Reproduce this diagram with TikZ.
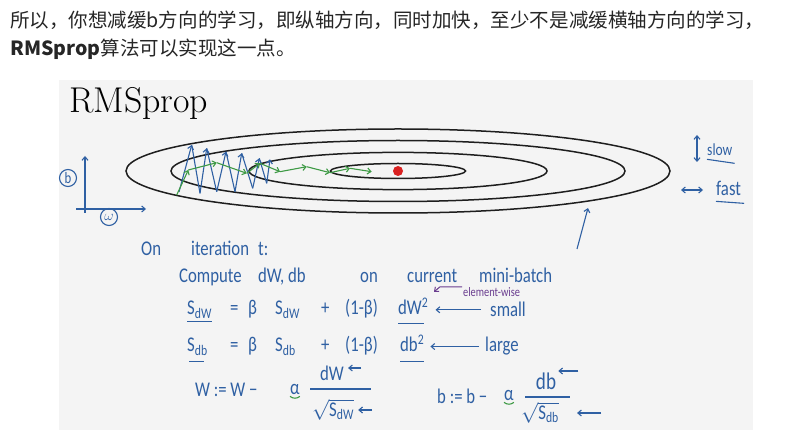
\documentclass[tikz,border=0pt]{standalone}
\usepackage{amsmath}
\usepackage{fontspec}
\newfontfamily\cjk{Noto Sans CJK SC}
\newfontfamily\hand{Carlito}[FakeStretch=0.8]
\usetikzlibrary{arrows.meta}

\begin{document}
\begin{tikzpicture}[x=1bp,y=-1bp,every node/.style={inner sep=0,font=\hand\fontsize{21}{23}\selectfont,text=ink},>={Straight Barb[length=3.5bp,width=6bp]},hand line/.style={draw=ink,line width=1.1bp},pen line/.style={draw=pen,line width=1.1bp}]
\path[use as bounding box] (0,0) rectangle (790,434);
\definecolor{ink}{HTML}{2F60A3}
\definecolor{pen}{HTML}{3E9A45}
\definecolor{note}{HTML}{6A3D8F}
\definecolor{dot}{HTML}{D92121}
\definecolor{panel}{HTML}{F4F4F4}
\definecolor{ring}{HTML}{1E1E1E}
\fill[panel] (59,80) rectangle (753,430);
\node[anchor=west,font=\cjk\fontsize{19.6}{21}\selectfont,text=black!85] (intro) at (10,20) {所以，你想减缓b方向的学习，即纵轴方向，同时加快，至少不是减缓横轴方向的学习，};
\node[anchor=west,font=\cjk\fontsize{19.6}{21}\selectfont,text=black!85] (introend) at (10,49) {\textbf{RMSprop}算法可以实现这一点。};
\node[anchor=base west,font=\fontsize{36}{38}\selectfont,text=black] (title) at (69,113) {RMSprop};
\foreach \rx/\ry in {272/42,227/30.5,149/18.6,67.5/7.5}{\draw[ring,line width=1.5bp] (398,171) ellipse [x radius=\rx,y radius=\ry];}
\node[circle,fill=dot,minimum size=10bp] (optimum) at (398,171) {};
\foreach \xa/\ya/\xb/\yb in {179/192/191.7/145,200/193.3/206.7/148.3,216.7/191.7/226/151.7,235/191.7/241.7/153.3,252.7/188.3/259.3/158.3,266.7/183.3/270/159.3}{\draw[hand line,->] (\xa,\ya) -- (\xb,\yb);}
\foreach \xa/\ya/\xb/\yb in {191.7/145/200/193.3,206.7/148.3/216.7/191.7,226/151.7/235/191.7,241.7/153.3/252.7/188.3,259.3/158.3/266.7/183.3}{\draw[hand line,rounded corners=2bp] (\xa,\ya) -- (\xb,\yb);}
\foreach \xa/\ya/\xb/\yb in {176.7/195/188.3/170,188.3/170/216.7/162.7,216.7/162.7/246.7/173.3,246.7/173.3/260/163.3,260/163.3/280/171.7,280/171.7/306.7/166.7,306.7/166.7/330/172.7,330/172.7/350/168.3,350/168.3/371.7/171.7}{\draw[pen line,->] (\xa,\ya) -- (\xb,\yb);}
\coordinate (bfoot) at (85,213);
\coordinate (btip) at (85,156);
\coordinate (wfoot) at (76,209);
\coordinate (wtip) at (146,209);
\draw[hand line,->] (bfoot) -- (btip);
\draw[hand line,->] (wfoot) -- (wtip);
\node[circle,draw=ink,line width=1.1bp,minimum size=17bp,font=\hand\fontsize{16}{16}\selectfont] (bmark) at (68,178) {b};
\node[circle,draw=ink,line width=1.1bp,minimum size=17bp,font=\fontsize{14}{14}\selectfont] (wmark) at (109,217) {$\omega$};
\coordinate (slowtop) at (697,135);
\coordinate (slowfoot) at (697,162);
\draw[hand line,<->] (slowfoot) -- (slowtop);
\node[anchor=base west,font=\hand\fontsize{17}{17}\selectfont] (slow) at (707,156) {slow};
\draw[hand line] ([yshift=-3bp]slow.south west) -- ([xshift=2bp,yshift=-7bp]slow.south east);
\coordinate (fastleft) at (681,190);
\coordinate (fastright) at (703,190);
\draw[hand line,<->] (fastleft) -- (fastright);
\node[anchor=base west,font=\hand\fontsize{21}{21}\selectfont] (fast) at (716,196) {fast};
\draw[hand line] ([yshift=-5bp]fast.south west) -- ([xshift=3bp,yshift=-7bp]fast.south east);
\coordinate (pointfoot) at (577,249);
\coordinate (pointtip) at (588,208);
\draw[hand line,->] (pointfoot) -- (pointtip);
\node[anchor=base west] (on) at (141,256) {On};
\node[anchor=base west] (iteration) at (191,256) {iteration};
\node[anchor=base west] (tcolon) at (258,256) {t:};
\node[anchor=base west] (compute) at (179,283) {Compute};
\node[anchor=base west] (grads) at (258,283) {dW, db};
\node[anchor=base west] (onword) at (360,283) {on};
\node[anchor=base west] (current) at (407,283) {current};
\node[anchor=base west] (minibatch) at (479,283) {mini-batch};
\node[anchor=base west,text=note,font=\hand\fontsize{13}{13}\selectfont] (elementwise) at (463,297) {element-wise};
\draw[note,line width=1bp,->] ([xshift=-1bp,yshift=1bp]elementwise.north west) -- ++(-22,0) -- ++(-6,5);
\node[anchor=base west] (sdwa) at (187,315) {S$_{\text{dW}}$};
\node[anchor=base west] (eqa) at (230,315) {=};
\node[anchor=base west] (betaa) at (248,315) {β};
\node[anchor=base west] (sdwb) at (275,315) {S$_{\text{dW}}$};
\node[anchor=base west] (plusa) at (321,315) {+};
\node[anchor=base west] (onebetaa) at (345,315) {(1-β)};
\node[anchor=base west] (dwsq) at (398,315) {dW$^{\text{2}}$};
\node[anchor=base west] (small) at (490,317) {small};
\draw[hand line] ([yshift=-3bp]sdwa.south west) -- ([yshift=-3bp]sdwa.south east);
\draw[hand line] ([yshift=-8bp]dwsq.south west) -- ([xshift=-5bp,yshift=-8bp]dwsq.south east);
\draw[hand line,->,shorten >=7bp] ([xshift=-9bp]small.west) -- (small.west -| dwsq.east);
\node[anchor=base west] (sdba) at (187,352) {S$_{\text{db}}$};
\node[anchor=base west] (eqb) at (230,352) {=};
\node[anchor=base west] (betab) at (248,352) {β};
\node[anchor=base west] (sdbb) at (275,352) {S$_{\text{db}}$};
\node[anchor=base west] (plusb) at (321,352) {+};
\node[anchor=base west] (onebetab) at (345,352) {(1-β)};
\node[anchor=base west] (dbsq) at (400,352) {db$^{\text{2}}$};
\node[anchor=base west] (large) at (485,352) {large};
\draw[hand line] ([xshift=2bp,yshift=-6bp]sdba.south west) -- ++(15,0);
\draw[hand line] ([yshift=-9bp]dbsq.south west) -- ([yshift=-9bp]dbsq.south east);
\draw[hand line,->,shorten >=6bp] ([xshift=-6bp]large.west) -- (large.west -| dbsq.east);
\node[anchor=base west] (wupdate) at (195,396) {W := W −};
\node[anchor=base west] (alphaw) at (290,394) {α};
\node (numw) at (332,373) {dW};
\node (denw) at (333,410) {$\sqrt{\text{S}_{\text{dW}}}$};
\draw[hand line] (310,389) -- (371,389);
\draw[pen line] ([yshift=-2bp]alphaw.south west) to[bend right=40] ([yshift=-2bp]alphaw.south east);
\draw[hand line,->] ([xshift=17bp,yshift=5bp]numw.east) -- ([xshift=4bp,yshift=5bp]numw.east);
\draw[hand line,->] ([xshift=18bp]denw.east) -- ([xshift=4bp]denw.east);
\node[anchor=base west] (bupdate) at (437,403) {b := b −};
\node[anchor=base west] (alphab) at (504,400) {α};
\node[font=\hand\fontsize{24}{24}\selectfont] (numb) at (546,381) {db};
\node (denb) at (540,413) {$\sqrt{\text{S}_{\text{db}}}$};
\draw[hand line] (525,397) -- (570,397);
\draw[pen line] ([yshift=-2bp]alphab.south west) to[bend right=40] ([yshift=-2bp]alphab.south east);
\draw[hand line,->] ([xshift=22bp,yshift=10bp]numb.east) -- ([xshift=2bp,yshift=10bp]numb.east);
\draw[hand line,->] ([xshift=42bp]denb.east) -- ([xshift=18bp]denb.east);
\end{tikzpicture}
\end{document}
